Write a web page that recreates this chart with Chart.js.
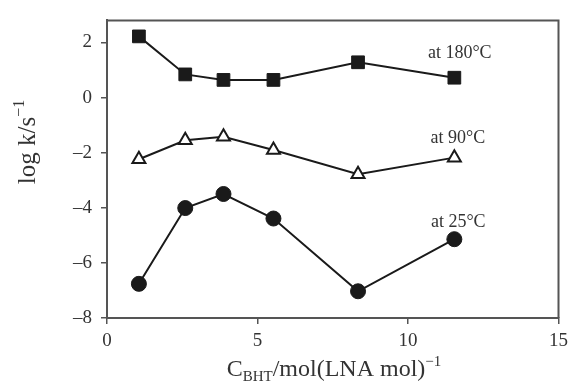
<!DOCTYPE html>
<html><head><meta charset="utf-8">
<script src="https://cdn.jsdelivr.net/npm/chart.js@4/dist/chart.umd.min.js"></script>
<style>html,body{margin:0;padding:0;background:#fff}#wrap{width:574px;height:385px}</style>
</head><body><div id="wrap"><canvas id="c"></canvas></div>
<script>
const xValues = [1.06, 2.6, 3.87, 5.53, 8.34, 11.54];
const log180 = [2.22, 0.84, 0.64, 0.64, 1.28, 0.72];
const log90 = [-2.24, -1.55, -1.42, -1.9, -2.78, -2.18];
const log25 = [-6.76, -4.01, -3.5, -4.39, -7.03, -5.14];
const seriesLabels = ['at 180°C', 'at 90°C', 'at 25°C'];
const labelX = [11.72, 11.66, 11.67];
const labelY = [1.59, -1.47, -4.52];
const xTicks = [0, 5, 10, 15];
const yTicks = [-8, -6, -4, -2, 0, 2];

const INK = '#1a1a1a', AXIS = '#555', TXT = '#333';
const SERIF = "'Liberation Serif', 'Times New Roman', serif";

function pts(ys) { return xValues.map((x, i) => ({x: x, y: ys[i]})); }
function fmt(v) { return v < 0 ? '\u2013' + Math.abs(v) : String(v); }

const deco = {
  id: 'deco',
  afterDraw(chart) {
    const ctx = chart.ctx, a = chart.chartArea;
    const xs = chart.scales.x, ys = chart.scales.y;
    ctx.save();
    ctx.strokeStyle = AXIS; ctx.lineWidth = 2;
    ctx.beginPath();
    ctx.moveTo(a.left, a.top); ctx.lineTo(a.right, a.top); ctx.lineTo(a.right, a.bottom);
    ctx.stroke();
    ctx.fillStyle = TXT;
    ctx.font = '18px ' + SERIF;
    ctx.textAlign = 'center'; ctx.textBaseline = 'middle';
    seriesLabels.forEach((t, i) => {
      ctx.fillText(t, xs.getPixelForValue(labelX[i]), ys.getPixelForValue(labelY[i]));
    });
    ctx.textAlign = 'left'; ctx.textBaseline = 'alphabetic';
    const big = '24px ' + SERIF, small = '15px ' + SERIF;
    const parts = [
      {t: 'C', f: big, dy: 0},
      {t: 'BHT', f: small, dy: 5},
      {t: '/mol(LNA mol)', f: big, dy: 0},
      {t: '\u22121', f: small, dy: -10}
    ];
    let w = 0;
    parts.forEach(p => { ctx.font = p.f; p.w = ctx.measureText(p.t).width; w += p.w; });
    let x = 334 - w / 2;
    parts.forEach(p => { ctx.font = p.f; ctx.fillText(p.t, x, 376 + p.dy); x += p.w; });
    ctx.translate(35, 142); ctx.rotate(-Math.PI / 2);
    const ybig = '25px ' + SERIF, ysmall = '16px ' + SERIF;
    const yp = [
      {t: 'log k/s', f: ybig, dy: 0},
      {t: '\u22121', f: ysmall, dy: -11}
    ];
    w = 0;
    yp.forEach(p => { ctx.font = p.f; p.w = ctx.measureText(p.t).width; w += p.w; });
    x = -w / 2;
    yp.forEach(p => { ctx.font = p.f; ctx.fillText(p.t, x, p.dy); x += p.w; });
    ctx.restore();
  }
};

new Chart(document.getElementById('c'), {
  type: 'scatter',
  data: {
    datasets: [
      {data: pts(log180), showLine: true, borderColor: INK, borderWidth: 2,
       pointStyle: 'rect', pointRadius: 9, pointHoverRadius: 9,
       pointBackgroundColor: INK, pointBorderColor: INK, pointBorderWidth: 1},
      {data: pts(log90), showLine: true, borderColor: INK, borderWidth: 2,
       pointStyle: 'triangle', pointRadius: 7.5, pointHoverRadius: 7.5,
       pointBackgroundColor: '#fff', pointBorderColor: INK, pointBorderWidth: 2},
      {data: pts(log25), showLine: true, borderColor: INK, borderWidth: 2,
       pointStyle: 'circle', pointRadius: 7.5, pointHoverRadius: 7.5,
       pointBackgroundColor: INK, pointBorderColor: INK, pointBorderWidth: 1}
    ]
  },
  options: {
    responsive: true, maintainAspectRatio: false, animation: false,
    layout: {padding: {top: 17, right: 7, left: 0, bottom: 0}},
    plugins: {legend: {display: false}, tooltip: {enabled: false}},
    scales: {
      x: {
        type: 'linear', min: 0, max: 15,
        afterFit: s => { s.height = 67; },
        afterBuildTicks: s => { s.ticks = xTicks.map(v => ({value: v})); },
        grid: {display: true, drawOnChartArea: false, drawTicks: true, tickLength: 6, color: AXIS, lineWidth: 1.5},
        border: {display: true, color: AXIS, width: 2},
        ticks: {font: {family: SERIF, size: 19}, color: TXT, padding: 6, maxRotation: 0, callback: v => fmt(v)}
      },
      y: {
        type: 'linear', min: -8, max: 2.8,
        afterFit: s => { s.width = 107; },
        afterBuildTicks: s => { s.ticks = yTicks.map(v => ({value: v})); },
        grid: {display: true, drawOnChartArea: false, drawTicks: true, tickLength: 6, color: AXIS, lineWidth: 1.5},
        border: {display: true, color: AXIS, width: 2},
        ticks: {font: {family: SERIF, size: 19}, color: TXT, padding: 9, callback: v => fmt(v)}
      }
    }
  },
  plugins: [deco]
});
</script></body></html>
